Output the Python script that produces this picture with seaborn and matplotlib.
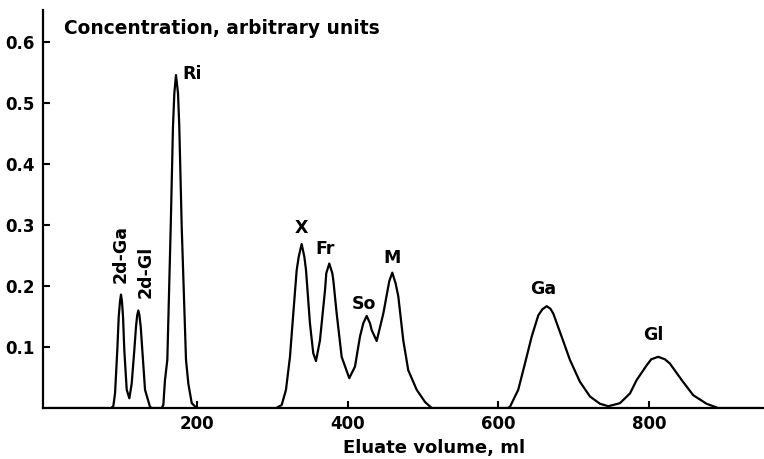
import matplotlib
matplotlib.use("Agg")
import matplotlib.pyplot as plt
import seaborn as sns
import pandas as pd

# Traced chromatogram (eluate volume in ml, concentration in arbitrary units)
volume_ml = [
    0, 86, 88.9, 91.2, 94.2, 96.1, 97.8, 99.1, 100.4, 101.8, 103.5, 106.7,
    110.2, 113.3, 116.8, 119.0, 120.6, 122.1, 123.6, 125.3, 127.4, 131.0,
    137.6, 140, 153, 155.3, 157.5, 160.6, 165.1, 168.1, 169.9, 172.1, 174.8,
    176.5, 179.7, 185.4, 188.5, 193, 199.6,
    305, 312.4, 318.1, 323.4, 327.8, 332.3, 335.0, 338.9, 342.5, 344.7,
    349.9, 354.3, 357.9, 363.2, 369.9, 371.6, 375.6, 379.6, 380.9, 385.4,
    392.0, 402.1, 409.7, 416.3, 420.7, 425.2, 429.6, 431.8, 438.5, 447.3,
    455.2, 459.2, 463.7, 467.2, 473.8, 480.4, 491.6, 502.6, 511.5,
    612, 615.4, 626.4, 635.3, 644.2, 653.0, 658.5, 664.1, 669.0, 672.9,
    684.0, 695.0, 708.3, 721.6, 734.9, 745.9, 761.4, 774.7, 783.6, 796.8,
    803.0, 812.2, 821.0, 827.7, 843.3, 858.7, 876.4, 891.8, 950,
]
concentration = [
    0, 0, 0.003, 0.024, 0.095, 0.150, 0.175, 0.186, 0.175, 0.150, 0.095, 0.030,
    0.016, 0.040, 0.095, 0.133, 0.152, 0.160, 0.152, 0.133, 0.095, 0.030,
    0.002, 0, 0, 0.005, 0.046, 0.079, 0.297, 0.461, 0.516, 0.546, 0.516,
    0.461, 0.297, 0.079, 0.040, 0.008, 0,
    0, 0.005, 0.030, 0.084, 0.155, 0.226, 0.248, 0.269, 0.248, 0.226,
    0.139, 0.090, 0.077, 0.111, 0.193, 0.221, 0.237, 0.221, 0.210, 0.155,
    0.084, 0.049, 0.068, 0.117, 0.139, 0.151, 0.139, 0.128, 0.110, 0.155,
    0.208, 0.222, 0.204, 0.183, 0.111, 0.062, 0.030, 0.010, 0,
    0, 0.002, 0.030, 0.073, 0.117, 0.152, 0.162, 0.167, 0.163, 0.155,
    0.117, 0.079, 0.043, 0.019, 0.007, 0.003, 0.008, 0.024, 0.046, 0.070,
    0.080, 0.084, 0.080, 0.073, 0.046, 0.021, 0.007, 0, 0,
]

# Peaks and their labels
peak_names = ["2d-Ga", "2d-Gl", "Ri", "X", "Fr", "So", "M", "Ga", "Gl"]
peak_ml = [99.1, 122.1, 172.1, 338.9, 375.6, 425.2, 459.2, 664.1, 812.2]
peak_conc = [0.186, 0.160, 0.546, 0.269, 0.237, 0.151, 0.222, 0.167, 0.084]

x_ticks = [200, 400, 600, 800]
y_ticks = [0.1, 0.2, 0.3, 0.4, 0.5, 0.6]

# label placement relative to the peak top, in pixels
label_offsets = {
    "2d-Ga": (0, 41, 90, "center"),
    "2d-Gl": (7, 39, 90, "center"),
    "Ri": (6, 1, 0, "left"),
    "X": (0, 16, 0, "center"),
    "Fr": (-4, 15, 0, "center"),
    "So": (-3, 12, 0, "center"),
    "M": (0, 15, 0, "center"),
    "Ga": (-3, 17, 0, "center"),
    "Gl": (-5, 22, 0, "center"),
}

sns.set_style("ticks")
plt.rcParams["font.family"] = ["DejaVu Sans"]
plt.rcParams["font.weight"] = "bold"
plt.rcParams["text.color"] = "black"
plt.rcParams["axes.labelcolor"] = "black"
plt.rcParams["xtick.color"] = "black"
plt.rcParams["ytick.color"] = "black"

fig = plt.figure(figsize=(7.64, 4.59), dpi=100)
ax = fig.add_axes([0.0563, 0.111, 0.9437, 0.867])

df = pd.DataFrame({"volume": volume_ml, "conc": concentration})
sns.lineplot(data=df, x="volume", y="conc", sort=False, color="black",
             linewidth=1.6, ax=ax)

ax.set_xlim(-4.4, 952.6)
ax.set_ylim(0, 0.6525)
ax.set_xticks(x_ticks)
ax.set_yticks(y_ticks)
ax.set_xticklabels([str(t) for t in x_ticks], fontsize=12, fontweight="bold")
ax.set_yticklabels([f"{t:.1f}" for t in y_ticks], fontsize=12, fontweight="bold")
ax.tick_params(direction="in", length=5, width=1.5, color="black",
               labelcolor="black")
ax.tick_params(axis="y", pad=6)
ax.tick_params(axis="x", pad=5)

for side in ["top", "right"]:
    ax.spines[side].set_visible(False)
for side in ["left", "bottom"]:
    ax.spines[side].set_linewidth(1.6)
    ax.spines[side].set_color("black")

ax.set_xlabel("Eluate volume, ml", fontsize=13, fontweight="bold", color="black")
ax.set_ylabel("")
ax.xaxis.set_label_coords(0.542, -0.078)

ax.text(0.029, 0.955, "Concentration, arbitrary units", transform=ax.transAxes,
        ha="left", va="center", fontsize=13.4, fontweight="bold", color="black")

for name, px, py in zip(peak_names, peak_ml, peak_conc):
    dx, dy, rot, ha = label_offsets[name]
    ax.annotate(name, (px, py), xytext=(dx, dy), textcoords="offset pixels",
                ha=ha, va="center", rotation=rot, fontsize=12.5,
                fontweight="bold", color="black")

fig.savefig("out.png", dpi=100)
